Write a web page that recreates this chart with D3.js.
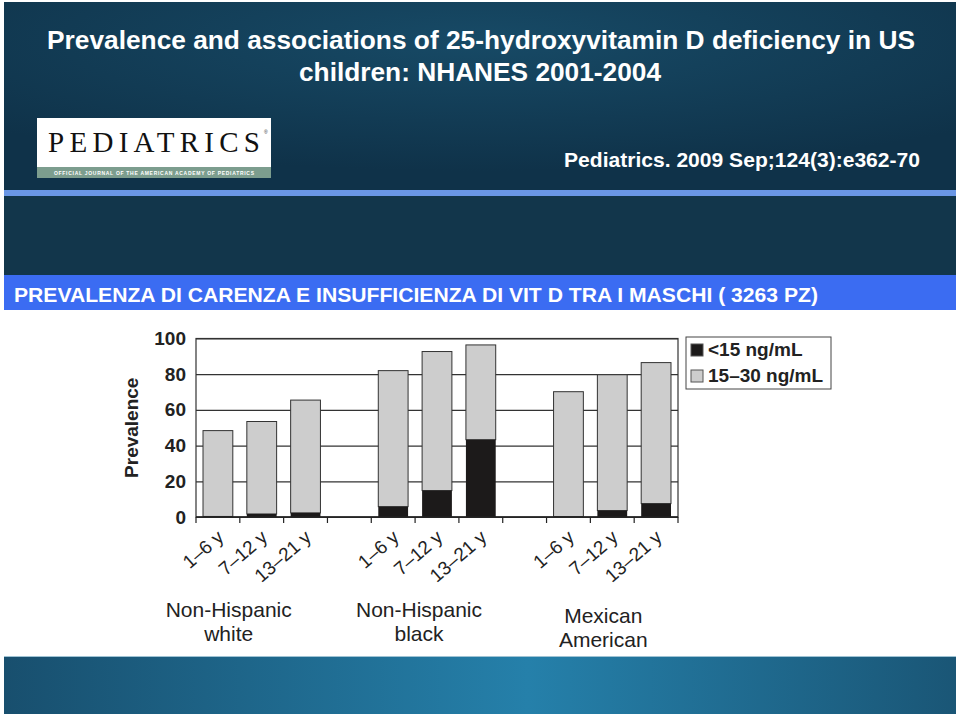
<!DOCTYPE html>
<html lang="it">
<head>
  <meta charset="UTF-8">
  <title>Prevalence of 25-hydroxyvitamin D deficiency</title>
  <script src="https://d3js.org/d3.v7.min.js"></script>
  <style>
    body { margin: 0; padding: 0; background: #fff; }
    svg { display: block; font-family: 'Liberation Sans', Arial, sans-serif; }
  </style>
</head>
<body>
  <div id="chart"></div>
  <script>
    // data (males, NHANES 2001-2004)
    const groups = ["Non-Hispanic white", "Non-Hispanic black", "Mexican American"];
    const groupLines = [["Non-Hispanic", "white"], ["Non-Hispanic", "black"], ["Mexican", "American"]];
    const ages = ["1–6 y", "7–12 y", "13–21 y"];
    const deficient = [[0.3, 1.7, 2.3], [5.8, 14.8, 43.3], [0.2, 3.6, 7.5]];      // <15 ng/mL
    const insufficient = [[48.1, 51.8, 63.2], [76.2, 77.9, 53.1], [70.0, 76.1, 79.0]]; // 15-30 ng/mL
    const seriesNames = ["<15 ng/mL", "15–30 ng/mL"];
    const yTicks = [0, 20, 40, 60, 80, 100];

    const W = 960, H = 716;
    const svg = d3.select("#chart").append("svg").attr("width", W).attr("height", H);

    const defs = svg.append("defs");
    const hg = defs.append("radialGradient").attr("id", "hdr")
      .attr("cx", "50%").attr("cy", "20%").attr("r", "70%");
    hg.append("stop").attr("offset", "0%").attr("stop-color", "#174a66");
    hg.append("stop").attr("offset", "100%").attr("stop-color", "#0f3249");
    const fg = defs.append("linearGradient").attr("id", "ftr");
    fg.append("stop").attr("offset", "0%").attr("stop-color", "#184f6e");
    fg.append("stop").attr("offset", "55%").attr("stop-color", "#2580aa");
    fg.append("stop").attr("offset", "100%").attr("stop-color", "#1a5676");

    // slide background
    svg.append("rect").attr("x", 4).attr("y", 2).attr("width", 952).attr("height", 188).attr("fill", "url(#hdr)");
    svg.append("rect").attr("x", 4).attr("y", 190).attr("width", 952).attr("height", 6).attr("fill", "#6a97e6");
    svg.append("rect").attr("x", 4).attr("y", 196).attr("width", 952).attr("height", 79).attr("fill", "#12364b");
    svg.append("rect").attr("x", 4).attr("y", 275).attr("width", 952).attr("height", 35).attr("fill", "#3b6cf2");
    svg.append("rect").attr("x", 4).attr("y", 657).attr("width", 952).attr("height", 57).attr("fill", "url(#ftr)");
    svg.append("line").attr("x1", 4).attr("x2", 956).attr("y1", 656.5).attr("y2", 656.5).attr("stroke", "#9fc3d4");

    // condensed look of the slide font: squeeze glyphs to the measured width
    const squeeze = (sel, len) => sel.attr("textLength", len).attr("lengthAdjust", "spacingAndGlyphs");

    const title = svg.append("g").attr("fill", "#fff").attr("font-weight", "bold").attr("font-size", 25)
      .attr("text-anchor", "middle");
    squeeze(title.append("text").attr("x", 481).attr("y", 49), 868)
      .text("Prevalence and associations of 25-hydroxyvitamin D deficiency in US");
    squeeze(title.append("text").attr("x", 480).attr("y", 81), 362).text("children: NHANES 2001-2004");

    squeeze(svg.append("text").attr("x", 920).attr("y", 167).attr("text-anchor", "end").attr("fill", "#fff")
      .attr("font-weight", "bold").attr("font-size", 21), 356)
      .text("Pediatrics. 2009 Sep;124(3):e362-70");

    // journal logo
    const logo = svg.append("g");
    logo.append("rect").attr("x", 37).attr("y", 118).attr("width", 234).attr("height", 60).attr("fill", "#fff");
    logo.append("rect").attr("x", 37).attr("y", 167).attr("width", 234).attr("height", 11).attr("fill", "#7c9d8e");
    logo.append("text").attr("x", 48).attr("y", 152).attr("font-family", "'Liberation Serif', 'DejaVu Serif', serif")
      .attr("font-size", 29).attr("fill", "#111").attr("textLength", 212).text("PEDIATRICS");
    logo.append("text").attr("x", 264).attr("y", 134).attr("font-size", 5).attr("fill", "#333").text("®");
    logo.append("text").attr("x", 154).attr("y", 175).attr("text-anchor", "middle").attr("font-size", 5)
      .attr("font-weight", "bold").attr("fill", "#fff").attr("textLength", 200)
      .text("OFFICIAL JOURNAL OF THE AMERICAN ACADEMY OF PEDIATRICS");

    squeeze(svg.append("text").attr("x", 14).attr("y", 302).attr("fill", "#fff").attr("font-weight", "bold")
      .attr("font-size", 21), 804)
      .text("PREVALENZA DI CARENZA E INSUFFICIENZA DI VIT D TRA I MASCHI ( 3263 PZ)");

    // chart
    const slots = [];
    groups.forEach((g, gi) => {
      ages.forEach((a, ai) => slots.push(gi + "|" + ai));
      if (gi < groups.length - 1) slots.push("gap" + gi);
    });
    const x = d3.scaleBand().domain(slots).range([196, 678]).paddingInner(0.32).paddingOuter(0.16);
    const y = d3.scaleLinear().domain([0, 100]).range([517, 338.5]);
    const step = x.step();

    const plot = svg.append("g");
    plot.append("rect").attr("x", 196).attr("y", y(100)).attr("width", 482).attr("height", y(0) - y(100))
      .attr("fill", "#fff").attr("stroke", "#333").attr("stroke-width", 1.2);

    const yAxis = plot.append("g").attr("transform", "translate(196,0)")
      .call(d3.axisLeft(y).tickValues(yTicks).tickSize(-482).tickPadding(10));
    yAxis.select(".domain").remove();
    yAxis.selectAll("line").attr("stroke", "#333").attr("stroke-width", 1.2);
    yAxis.selectAll("text").attr("font-size", 19).attr("font-weight", "bold").attr("fill", "#222")
      .attr("font-family", "'Liberation Sans', Arial, sans-serif");

    const rows = [];
    groups.forEach((g, gi) => ages.forEach((a, ai) => {
      rows.push({ key: gi + "|" + ai, age: a, def: deficient[gi][ai], ins: insufficient[gi][ai] });
    }));

    plot.selectAll(".ins").data(rows).join("rect").attr("class", "ins")
      .attr("x", d => x(d.key)).attr("width", x.bandwidth())
      .attr("y", d => y(d.def + d.ins)).attr("height", d => y(d.def) - y(d.def + d.ins))
      .attr("fill", "#cdcdcd").attr("stroke", "#333").attr("stroke-width", 1);
    plot.selectAll(".def").data(rows).join("rect").attr("class", "def")
      .attr("x", d => x(d.key)).attr("width", x.bandwidth())
      .attr("y", d => y(d.def)).attr("height", d => y(0) - y(d.def))
      .attr("fill", "#1c1a1a");

    // bottom axis with ticks between slots
    const tickXs = slots.map(s => x(s) - step * 0.16).concat([678]);
    plot.append("line").attr("x1", 196).attr("x2", 678).attr("y1", y(0)).attr("y2", y(0))
      .attr("stroke", "#222").attr("stroke-width", 1.5);
    plot.selectAll(".xt").data(tickXs).join("line").attr("class", "xt")
      .attr("x1", d => d).attr("x2", d => d).attr("y1", y(0)).attr("y2", y(0) + 6)
      .attr("stroke", "#222").attr("stroke-width", 1.2);

    plot.selectAll(".xl").data(rows).join("text").attr("class", "xl")
      .attr("transform", d => `translate(${x(d.key) + x.bandwidth() / 2 + 7},${y(0) + 22}) rotate(-41)`)
      .attr("text-anchor", "end").attr("font-size", 19).attr("fill", "#222").text(d => d.age);

    const labelShift = [-33, -18, -9];
    groupLines.forEach((lines, gi) => {
      const cx = x(gi + "|1") + x.bandwidth() / 2 + labelShift[gi];
      const base = gi === 2 ? 623 : 617;
      lines.forEach((l, li) => {
        plot.append("text").attr("x", cx).attr("y", base + li * 24).attr("text-anchor", "middle")
          .attr("font-size", 21).attr("fill", "#222").text(l);
      });
    });

    plot.append("text").attr("transform", `translate(138,${(y(0) + y(100)) / 2}) rotate(-90)`)
      .attr("text-anchor", "middle").attr("font-size", 19).attr("font-weight", "bold").attr("fill", "#222")
      .text("Prevalence");

    // legend
    const lg = plot.append("g").attr("transform", "translate(686,337)");
    lg.append("rect").attr("width", 145).attr("height", 52).attr("fill", "#fff").attr("stroke", "#444");
    const swatch = ["#1c1a1a", "#cdcdcd"];
    seriesNames.forEach((n, i) => {
      lg.append("rect").attr("x", 5).attr("y", 7 + i * 26).attr("width", 12).attr("height", 12)
        .attr("fill", swatch[i]).attr("stroke", "#555");
      lg.append("text").attr("x", 22).attr("y", 19 + i * 26).attr("font-size", 19).attr("font-weight", "bold")
        .attr("fill", "#222").text(n);
    });
  </script>
</body>
</html>
